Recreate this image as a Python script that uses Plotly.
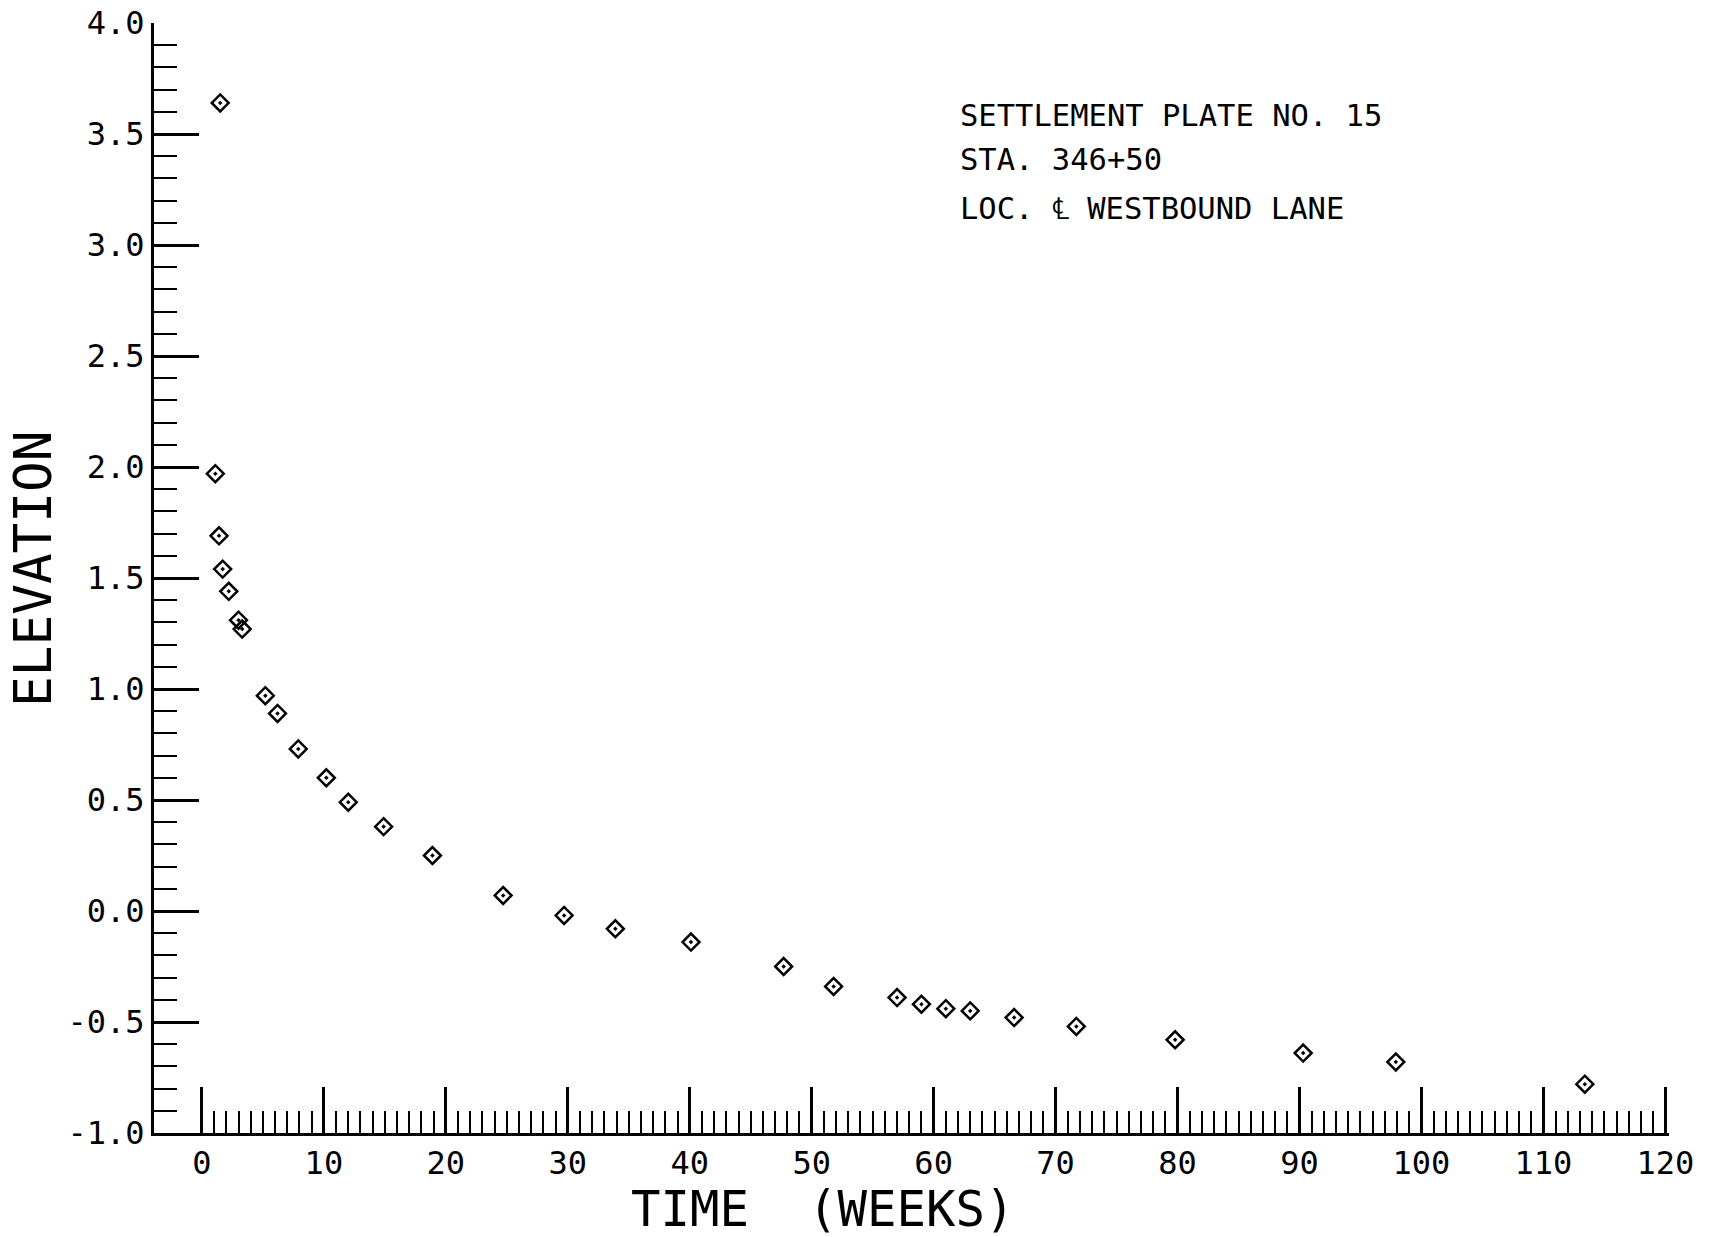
import plotly.graph_objects as go

# Settlement plate no. 15 readings: elapsed time (weeks) and elevation
weeks = [1.5, 1.1, 1.4, 1.7, 2.2, 3.0, 3.3, 5.2, 6.2, 7.9, 10.2, 12.0, 14.9,
         18.9, 24.7, 29.7, 33.9, 40.1, 47.7, 51.8, 57.0, 59.0, 61.0, 63.0,
         66.6, 71.7, 79.8, 90.3, 97.9, 113.4]
elevation = [3.64, 1.97, 1.69, 1.54, 1.44, 1.31, 1.27, 0.97, 0.89, 0.73, 0.60,
             0.49, 0.38, 0.25, 0.07, -0.02, -0.08, -0.14, -0.25, -0.34, -0.39,
             -0.42, -0.44, -0.45, -0.48, -0.52, -0.58, -0.64, -0.68, -0.78]

x_major = list(range(0, 121, 10))
x_minor = [w for w in range(1, 120) if w % 10]
x_labels = [str(v) for v in x_major]

y_major = [-1.0, -0.5, 0.0, 0.5, 1.0, 1.5, 2.0, 2.5, 3.0, 3.5, 4.0]
y_labels = ["-1.0", "-0.5", "0.0", "0.5", "1.0", "1.5", "2.0", "2.5",
            "3.0", "3.5", "4.0"]

info_lines = ["SETTLEMENT PLATE NO. 15", "STA. 346+50", "LOC. \u2104 WESTBOUND LANE"]

MONO = "DejaVu Sans Mono"
INK = "black"

fig = go.Figure()
fig.add_trace(go.Scatter(
    x=weeks, y=elevation, mode="markers",
    marker=dict(symbol="diamond-open-dot", size=13, color=INK,
                line=dict(width=2.5, color=INK)),
    showlegend=False, hoverinfo="x+y",
))

# the range runs a hair past 120 so the closing major tick is not clipped
fig.update_xaxes(
    range=[-3.93, 120.3], automargin=False,
    showline=True, linewidth=3, linecolor=INK,
    showgrid=False, zeroline=False,
    tickmode="array", tickvals=x_major, ticktext=x_labels,
    ticks="inside", ticklen=46, tickwidth=2.5, tickcolor=INK,
    tickfont=dict(family=MONO, size=32, color=INK),
    minor=dict(tickmode="array", tickvals=x_minor, ticks="inside",
               ticklen=22, tickwidth=2, tickcolor=INK, showgrid=False),
)
fig.update_yaxes(
    range=[-1, 4], automargin=False,
    showline=True, linewidth=3, linecolor=INK,
    showgrid=False, zeroline=False,
    tickmode="array", tickvals=y_major, ticktext=y_labels,
    ticks="inside", ticklen=45, tickwidth=2.5, tickcolor=INK,
    tickfont=dict(family=MONO, size=32, color=INK),
    minor=dict(tick0=-1, dtick=0.1, ticks="inside", ticklen=23,
               tickwidth=2, tickcolor=INK, showgrid=False),
)

annotations = [
    dict(text="TIME\u00a0\u00a0(WEEKS)", xref="paper", yref="paper",
         x=0.4418, y=-0.0685, xanchor="center", yanchor="middle",
         showarrow=False, font=dict(family=MONO, size=49, color=INK)),
    dict(text="ELEVATION", xref="paper", yref="paper", textangle=-90,
         x=-0.080, y=0.508, xanchor="center", yanchor="middle",
         showarrow=False, font=dict(family=MONO, size=51, color=INK)),
]
for line, ypos in zip(info_lines, [0.9170, 0.8766, 0.8333]):
    annotations.append(dict(
        text=line, xref="paper", yref="paper", x=0.531, y=ypos,
        xanchor="left", yanchor="middle", showarrow=False,
        font=dict(family=MONO, size=30.5, color=INK)))

fig.update_layout(
    width=1711, height=1237,
    margin=dict(l=154, r=42, t=23, b=104, autoexpand=False),
    paper_bgcolor="white", plot_bgcolor="white",
    annotations=annotations,
)

fig.write_html("out.html")
